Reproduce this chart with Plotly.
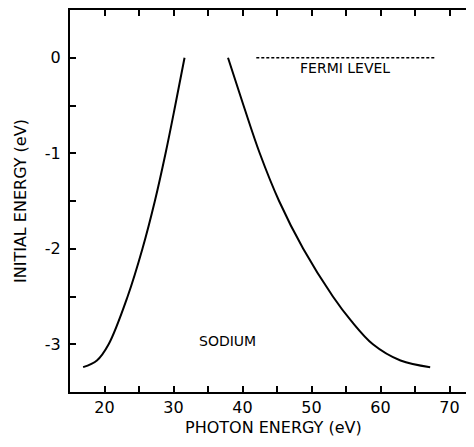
import plotly.graph_objects as go

# Left branch (photon energy vs initial energy)
left_y = [0.0, -0.5, -1.0, -1.5, -2.0, -2.5, -3.0, -3.17, -3.24]
left_x = [31.6, 30.25, 28.85, 27.3, 25.5, 23.35, 20.6, 18.9, 16.9]

# Right branch
right_y = [0.0, -0.5, -1.0, -1.5, -2.0, -2.5, -2.75, -3.0, -3.17, -3.24]
right_x = [37.9, 40.15, 42.5, 45.3, 48.8, 53.1, 55.7, 58.9, 62.9, 67.2]

# Fermi level
fermi_x = [42.0, 68.0]
fermi_y = [0.0, 0.0]

x_ticks = [20, 25, 30, 35, 40, 45, 50, 55, 60, 65, 70]
x_ticktext = ["20", "", "30", "", "40", "", "50", "", "60", "", "70"]
y_ticks = [0.0, -0.5, -1.0, -1.5, -2.0, -2.5, -3.0]
y_ticktext = ["0", "", "-1", "", "-2", "", "-3"]

FONT = "DejaVu Sans"

# page body has an 8px margin; compensate so the plot frame lands where the reference has it
OFF = 8
L, T, B = 70 - OFF, 10 - OFF, 447 - 392
W, H = 474 - OFF, 447 - OFF
PW, PH = W - L, H - T - B

fig = go.Figure()
fig.add_trace(go.Scatter(x=left_x, y=left_y, mode="lines",
                         line=dict(color="black", width=2, shape="spline", smoothing=1.0),
                         showlegend=False, hoverinfo="skip"))
fig.add_trace(go.Scatter(x=right_x, y=right_y, mode="lines",
                         line=dict(color="black", width=2, shape="spline", smoothing=1.0),
                         showlegend=False, hoverinfo="skip"))
fig.add_trace(go.Scatter(x=fermi_x, y=fermi_y, mode="lines",
                         line=dict(color="black", width=1.5, dash="3px,2px"),
                         showlegend=False, hoverinfo="skip"))

fig.add_annotation(x=54.9, y=-0.107, text="FERMI LEVEL", showarrow=False,
                   xanchor="center", yanchor="middle",
                   font=dict(family=FONT, size=14, color="black"))
fig.add_annotation(x=37.8, y=-2.963, text="SODIUM", showarrow=False,
                   xanchor="center", yanchor="middle",
                   font=dict(family=FONT, size=14, color="black"))

# Axis titles as annotations
fig.add_annotation(xref="paper", yref="paper", x=(273.5 - 70) / PW, y=0,
                   yshift=-(427 - 392), xanchor="center", yanchor="middle",
                   text="PHOTON ENERGY (eV)", showarrow=False,
                   font=dict(family=FONT, size=16, color="black"))
fig.add_annotation(xref="paper", yref="paper", x=0, xshift=-(70 - 20),
                   y=1 - (201 - 10) / PH, xanchor="center", yanchor="middle",
                   text="INITIAL ENERGY (eV)", textangle=-90,
                   showarrow=False, font=dict(family=FONT, size=16, color="black"))

fig.update_layout(
    width=W, height=H,
    margin=dict(l=L, r=0, t=T, b=B, pad=0),
    paper_bgcolor="white", plot_bgcolor="white",
    font=dict(family=FONT, size=14, color="black"),
    xaxis=dict(range=[15, 15 + PW / 6.9], tickmode="array", tickvals=x_ticks,
               ticktext=x_ticktext, ticks="inside", ticklen=6, tickwidth=1.5,
               tickcolor="black", showline=True, linecolor="black", linewidth=2,
               mirror="ticks", showgrid=False, zeroline=False,
               tickfont=dict(family=FONT, size=16)),
    yaxis=dict(range=[-3.5, 0.5], tickmode="array", tickvals=y_ticks,
               ticktext=y_ticktext, ticks="inside", ticklen=6, tickwidth=1.5,
               tickcolor="black", showline=True, linecolor="black", linewidth=2,
               mirror=False, showgrid=False, zeroline=False, ticklabelstandoff=4,
               tickfont=dict(family=FONT, size=16)),
)

fig.write_html("out.html")
